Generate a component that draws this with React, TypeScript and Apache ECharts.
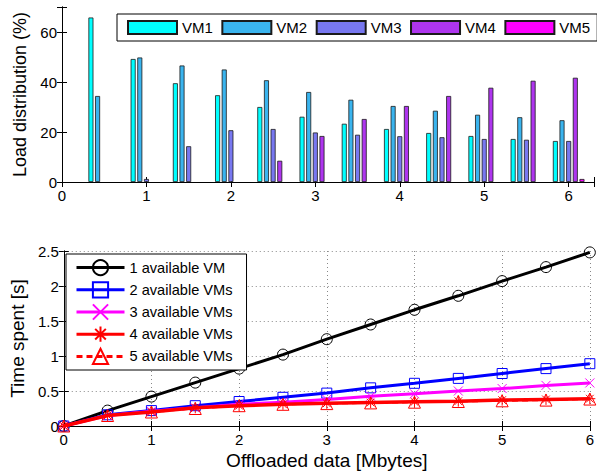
import React, { useEffect, useRef } from 'react';
import * as echarts from 'echarts';

// ---- Top chart: load distribution (%) per VM ----
const barX = [0.5, 1, 1.5, 2, 2.5, 3, 3.5, 4, 4.5, 5, 5.5, 6];
const vmNames = ['VM1', 'VM2', 'VM3', 'VM4', 'VM5'];
const vm1 = [65.8, 49.2, 39.5, 34.7, 30.0, 26.1, 23.3, 21.2, 19.6, 18.4, 17.2, 16.4];
const vm2 = [34.4, 49.8, 46.6, 45.0, 40.7, 36.0, 32.9, 30.4, 28.5, 26.9, 25.9, 24.7];
const vm3 = [0, 1.2, 14.3, 20.7, 21.2, 19.8, 18.9, 18.3, 17.9, 17.2, 16.9, 16.4];
const vm4 = [0, 0, 0, 0, 8.5, 18.4, 25.2, 30.4, 34.4, 37.7, 40.5, 41.7];
const vm5 = [0, 0, 0, 0, 0, 0, 0, 0, 0, 0, 0, 1.2];
const vmColors = ['#00FFFF', '#3AB4EE', '#7878F0', '#AE35EE', '#FF00FF'];

// ---- Bottom chart: time spent [s] ----
const lineX = [0, 0.5, 1, 1.5, 2, 2.5, 3, 3.5, 4, 4.5, 5, 5.5, 6];
const lineNames = ['1 available VM', '2 available VMs', '3 available VMs', '4 available VMs', '5 available VMs'];
const oneVM = [0, 0.22, 0.42, 0.62, 0.82, 1.02, 1.24, 1.45, 1.66, 1.86, 2.07, 2.27, 2.48];
const twoVMs = [0, 0.16, 0.22, 0.29, 0.35, 0.41, 0.47, 0.545, 0.61, 0.68, 0.75, 0.82, 0.89];
const threeVMs = [0, 0.15, 0.21, 0.26, 0.31, 0.34, 0.38, 0.425, 0.46, 0.5, 0.535, 0.58, 0.615];
const fourVMs = [0, 0.15, 0.2, 0.26, 0.29, 0.31, 0.325, 0.335, 0.345, 0.355, 0.37, 0.38, 0.39];
const fiveVMs = [0, 0.15, 0.2, 0.25, 0.29, 0.31, 0.32, 0.33, 0.34, 0.35, 0.36, 0.37, 0.385];
const lineColors = ['#000000', '#0000FF', '#FF00FF', '#FF0000', '#FF0000'];

const FONT = '"Liberation Sans", Arial, Helvetica, sans-serif';
const X_SYMBOL = 'path://M0,0L10,10M10,0L0,10';
const STAR_SYMBOL = 'path://M5,0L5,10M0,5L10,5M1.5,1.5L8.5,8.5M8.5,1.5L1.5,8.5';

export default function App() {
  const ref = useRef<HTMLDivElement>(null);

  useEffect(() => {
    document.body.style.margin = '0';
    if (!ref.current) return;
    const chart = echarts.init(ref.current, undefined, { renderer: 'svg' });

    const barSeriesData = [vm1, vm2, vm3, vm4, vm5];
    const lineSeriesData = [oneVM, twoVMs, threeVMs, fourVMs, fiveVMs];
    const symbols = ['circle', 'rect', X_SYMBOL, STAR_SYMBOL, 'triangle'];
    const symbolSizes = [11, 10, 9, 11, 12];
    const lineWidths = [3, 3, 3, 3.5, 2];

    const axisLine = { show: true, lineStyle: { color: '#000', width: 1 } };
    const tickIn = { show: true, inside: true, length: 5, lineStyle: { color: '#000' } };
    const labelStyle = { color: '#000', fontSize: 15, fontFamily: FONT };

    const option: any = {
      animation: false,
      backgroundColor: '#fff',
      textStyle: { fontFamily: FONT },
      grid: [
        { left: 62, top: 7, width: 532, height: 175 },
        { left: 62, top: 251, width: 532, height: 175 },
      ],
      legend: [
        {
          data: vmNames,
          orient: 'horizontal',
          left: 117,
          top: 14,
          width: 470,
          icon: 'rect',
          itemWidth: 49,
          itemHeight: 13,
          itemGap: 8.5,
          padding: [6, 7, 6, 10],
          backgroundColor: '#fff',
          borderColor: '#000',
          borderWidth: 1,
          borderRadius: 0,
          textStyle: { color: '#000', fontSize: 15, fontFamily: FONT },
        },
        {
          data: lineNames.map((n, i) => ({
            name: n,
            itemStyle: {
              color: 'rgba(255,255,255,0)',
              borderColor: lineColors[i],
              borderWidth: 2,
            },
            lineStyle: {
              color: lineColors[i],
              width: 3,
              type: i === 4 ? [6, 4] : 'solid',
            },
          })),
          orient: 'vertical',
          left: 66,
          top: 254,
          itemWidth: 48,
          itemHeight: 19,
          itemGap: 5,
          padding: [5, 14, 5, 9],
          backgroundColor: '#fff',
          borderColor: '#000',
          borderWidth: 1,
          borderRadius: 0,
          textStyle: { color: '#000', fontSize: 14.6, fontFamily: FONT },
        },
      ],
      xAxis: [
        {
          gridIndex: 0, type: 'value', min: 0, max: 6.3, interval: 1, position: 'bottom',
          axisLine, axisTick: tickIn, splitLine: { show: false },
          axisLabel: { ...labelStyle, margin: 6, formatter: (v: number) => (Number.isInteger(v) ? String(v) : '') },
        },
        {
          gridIndex: 0, type: 'value', min: 0, max: 6.3, interval: 1, position: 'top',
          axisLine, axisTick: tickIn, splitLine: { show: false }, axisLabel: { show: false },
        },
        {
          gridIndex: 1, type: 'value', min: 0, max: 6, interval: 1, position: 'bottom',
          axisLine, axisTick: tickIn,
          splitLine: { show: true, lineStyle: { color: '#888', type: [1, 3], width: 1 } },
          axisLabel: { ...labelStyle, margin: 6 },
          name: 'Offloaded data [Mbytes]', nameLocation: 'middle', nameGap: 25,
          nameTextStyle: { color: '#000', fontSize: 19, fontFamily: FONT },
        },
        {
          gridIndex: 1, type: 'value', min: 0, max: 6, interval: 1, position: 'top',
          axisLine, axisTick: tickIn, splitLine: { show: false }, axisLabel: { show: false },
        },
      ],
      yAxis: [
        {
          gridIndex: 0, type: 'value', min: 0, max: 70, interval: 20, position: 'left',
          axisLine, axisTick: tickIn, splitLine: { show: false },
          axisLabel: { ...labelStyle, margin: 5, formatter: (v: number) => (v % 20 === 0 ? String(v) : '') },
          name: 'Load distribution (%)', nameLocation: 'middle', nameGap: 30,
          nameTextStyle: { color: '#000', fontSize: 18, fontFamily: FONT },
        },
        {
          gridIndex: 0, type: 'value', min: 0, max: 70, interval: 20, position: 'right',
          axisLine, axisTick: tickIn, splitLine: { show: false }, axisLabel: { show: false },
        },
        {
          gridIndex: 1, type: 'value', min: 0, max: 2.5, interval: 0.5, position: 'left',
          axisLine, axisTick: tickIn,
          splitLine: { show: true, lineStyle: { color: '#888', type: [1, 3], width: 1 } },
          axisLabel: { ...labelStyle, margin: 5 },
          name: 'Time spent [s]', nameLocation: 'middle', nameGap: 35,
          nameTextStyle: { color: '#000', fontSize: 19, fontFamily: FONT },
        },
        {
          gridIndex: 1, type: 'value', min: 0, max: 2.5, interval: 0.5, position: 'right',
          axisLine, axisTick: tickIn, splitLine: { show: false }, axisLabel: { show: false },
        },
      ],
      series: [
        ...vmNames.map((name, i) => ({
          name,
          type: 'bar',
          xAxisIndex: 0,
          yAxisIndex: 0,
          barWidth: 5,
          barGap: '33%',
          data: barX.map((x, j) => {
            const v = barSeriesData[i][j];
            return v === 0
              ? { value: [x, v], itemStyle: { borderWidth: 0 } }
              : { value: [x, v] };
          }),
          itemStyle: { color: vmColors[i], borderColor: '#1a1a1a', borderWidth: 0.8 },
        })),
        ...lineNames.map((name, i) => ({
          name,
          type: 'line',
          xAxisIndex: 2,
          yAxisIndex: 2,
          data: lineX.map((x, j) => [x, lineSeriesData[i][j]]),
          symbol: symbols[i],
          symbolSize: symbolSizes[i],
          showAllSymbol: true,
          lineStyle: { color: lineColors[i], width: lineWidths[i], type: i === 4 ? [6, 4] : 'solid' },
          itemStyle: { color: 'rgba(255,255,255,0)', borderColor: lineColors[i], borderWidth: 1 },
          z: 2 + i,
        })),
      ],
    };

    chart.setOption(option);
    return () => chart.dispose();
  }, []);

  return <div ref={ref} style={{ width: 597, height: 474 }} />;
}
